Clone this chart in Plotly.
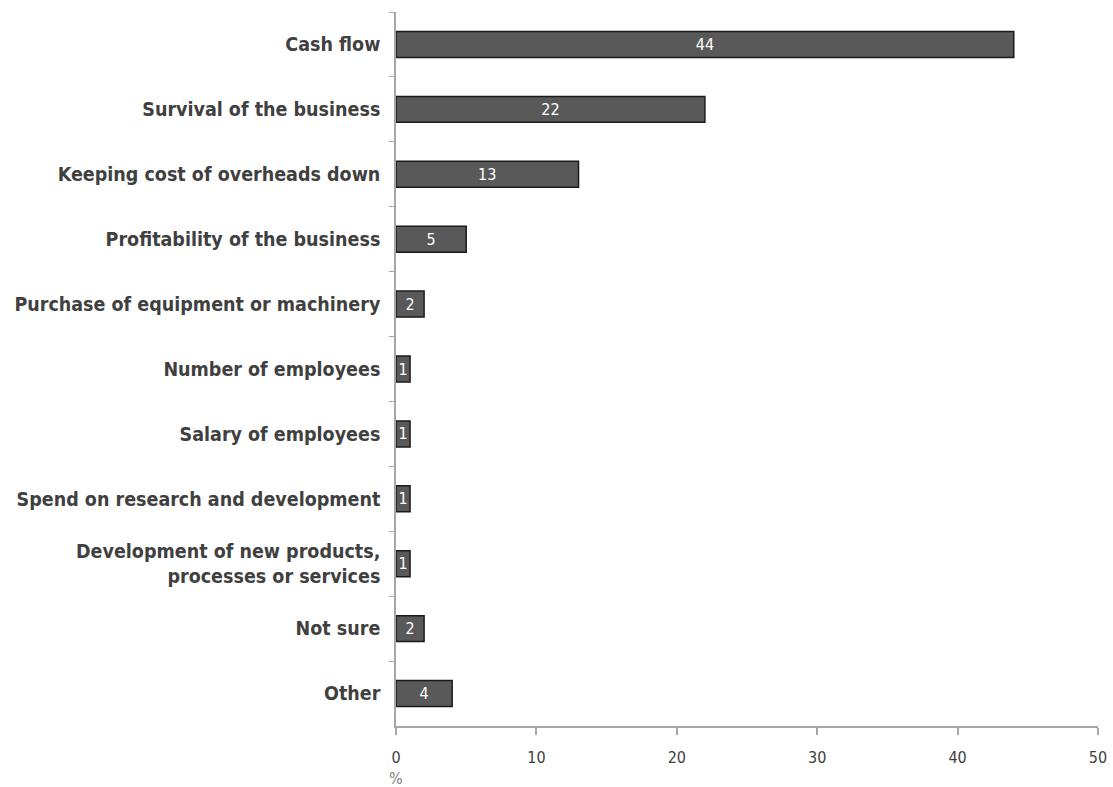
import plotly.graph_objects as go

categories = [
    "Cash flow",
    "Survival of the business",
    "Keeping cost of overheads down",
    "Profitability of the business",
    "Purchase of equipment or machinery",
    "Number of employees",
    "Salary of employees",
    "Spend on research and development",
    "Development of new products,<br>processes or services",
    "Not sure",
    "Other",
]
values = [44, 22, 13, 5, 2, 1, 1, 1, 1, 2, 4]
x_ticks = [0, 10, 20, 30, 40, 50]

FONT = "Liberation Sans Narrow, DejaVu Sans Condensed, sans-serif"

fig = go.Figure()
fig.add_trace(go.Bar(
    x=values, y=categories, orientation="h",
    marker=dict(color="#595959", line=dict(color="#1a1a1a", width=1.5)),
    text=[str(v) for v in values], textposition="inside",
    insidetextanchor="middle",
    textfont=dict(color="white", size=16, family=FONT),
    width=0.4,
))

fig.update_layout(
    width=1113, height=787,
    margin=dict(l=396, r=15, t=12, b=61, autoexpand=False),
    plot_bgcolor="white", paper_bgcolor="white",
    showlegend=False,
    uniformtext=dict(minsize=15, mode="show"),
    xaxis=dict(range=[0, 50], tickvals=x_ticks, showgrid=False, zeroline=False,
               automargin=False,
               showline=True, linecolor="#a6a6a6", linewidth=1.5,
               ticks="outside", ticklen=7, tickcolor="#a6a6a6", tickwidth=1.5,
               tickfont=dict(size=16, color="#404040", family=FONT),
               ticklabelstandoff=9),
    yaxis=dict(autorange="reversed", showgrid=False, zeroline=False,
               automargin=False,
               showline=True, linecolor="#a6a6a6", linewidth=1.5,
               ticks="outside", tickson="boundaries", ticklen=5, tickcolor="#a6a6a6",
               tickfont=dict(size=19.5, color="#404040", family=FONT, weight="bold"),
               ticklabelstandoff=10),
)

fig.add_annotation(x=0, y=0, xref="x", yref="paper", text="%", showarrow=False,
                   yanchor="top", yshift=-41,
                   font=dict(size=16, color="#808080", family=FONT))

fig.write_html("out.html",
               config={"displayModeBar": False},
               post_script="document.body.style.margin='0px';document.body.style.overflow='hidden';")
